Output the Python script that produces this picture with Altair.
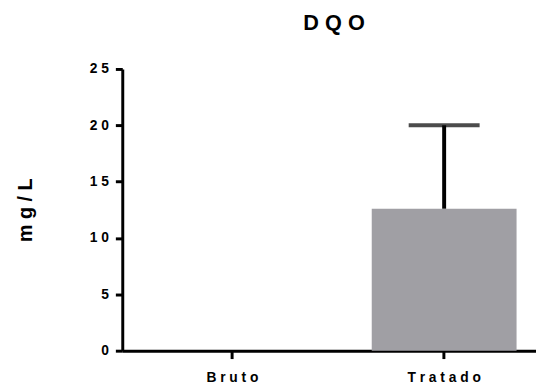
import altair as alt
import pandas as pd

categories = ["Bruto", "Tratado"]
means = [0.0, 12.6]
sds = [0.0, 7.4]
y_ticks = [0, 5, 10, 15, 20, 25]

df = pd.DataFrame({"grupo": categories, "media": means, "sd": sds})
df["sup"] = df["media"] + df["sd"]

FONT = "Liberation Sans"

x_enc = alt.X(
    "grupo:N",
    sort=categories,
    title=None,
    scale=alt.Scale(paddingInner=0.316, paddingOuter=0.135, align=0.66),
    axis=alt.Axis(
        labelAngle=0,
        labelFont=FONT,
        labelFontSize=14,
        labelFontWeight="bold",
        labelColor="black",
        labelPadding=12,
        labelExpr="join(split(datum.label, ''), ' ')",
        tickSize=8,
        tickWidth=3,
        tickColor="black",
        domainWidth=3,
        domainColor="black",
    ),
)

y_scale = alt.Scale(domain=[0, 25], nice=False, zero=True)

y_axis = alt.Axis(
    values=y_ticks,
    grid=False,
    labelFont=FONT,
    labelFontSize=14,
    labelFontWeight="bold",
    labelColor="black",
    labelPadding=7,
    labelExpr="join(split(datum.label, ''), ' ')",
    tickSize=7,
    tickWidth=3,
    tickColor="black",
    domainWidth=3,
    domainColor="black",
    titleFont=FONT,
    titleFontSize=20,
    titleFontWeight="bold",
    titleColor="black",
    titleBaseline="alphabetic",
    titleX=-92,
    titleY=143,
    titleAngle=-90,
)

bars = alt.Chart(df).mark_bar(color="#a09fa4").encode(
    x=x_enc,
    y=alt.Y("media:Q", scale=y_scale, title="m g / L", axis=y_axis),
)

err = alt.Chart(df).transform_filter("datum.sd > 0")

stem = err.mark_rule(color="black", strokeWidth=4).encode(
    x=alt.X("grupo:N", sort=categories),
    y=alt.Y("media:Q", scale=y_scale, title="m g / L", axis=y_axis),
    y2="sup:Q",
)

cap = err.mark_tick(color="black", thickness=4, size=72, orient="horizontal").encode(
    x=alt.X("grupo:N", sort=categories),
    y=alt.Y("sup:Q", scale=y_scale, title="m g / L", axis=y_axis),
)

chart = (
    alt.layer(bars, stem, cap)
    .properties(
        width=420,
        height=286,
        title=alt.TitleParams(
            "D Q O",
            font=FONT,
            fontSize=22,
            fontWeight="bold",
            color="black",
            anchor="middle",
            frame="group",
            baseline="alphabetic",
            offset=11,
            dx=5,
        ),
        autosize=alt.AutoSizeParams(type="none"),
        padding={"left": 116, "top": 59, "right": 0, "bottom": 35},
    )
    .configure_view(stroke=None)
)

chart.save("out.html", embed_options={"renderer": "svg", "actions": False})
